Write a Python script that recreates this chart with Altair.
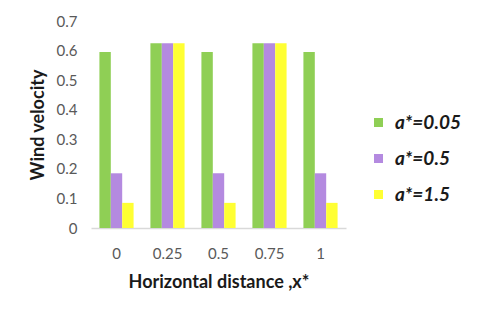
import altair as alt
import pandas as pd

categories = ["0", "0.25", "0.5", "0.75", "1"]
series = ["a*=0.05", "a*=0.5", "a*=1.5"]
v_005 = [0.595, 0.625, 0.595, 0.625, 0.595]
v_05 = [0.185, 0.625, 0.185, 0.625, 0.185]
v_15 = [0.085, 0.625, 0.085, 0.625, 0.085]
colors = ["#8fcf55", "#b48ae0", "#ffff33"]

rows = []
for s, vals in zip(series, [v_005, v_05, v_15]):
    for c, v in zip(categories, vals):
        rows.append({"x": c, "series": s, "v": v})
df = pd.DataFrame(rows)

FONT = "Lato"

chart = alt.Chart(df).mark_bar().encode(
    x=alt.X("x:N", sort=categories,
            scale=alt.Scale(paddingInner=0.33, paddingOuter=0.165),
            axis=alt.Axis(title="Horizontal distance ,x*", labelAngle=0, ticks=False,
                          labelPadding=18, titlePadding=12, domainColor="#d9d9d9",
                          domainWidth=1.5)),
    xOffset=alt.XOffset("series:N", sort=series),
    y=alt.Y("v:Q", scale=alt.Scale(domain=[0, 0.7], nice=False),
            axis=alt.Axis(title="Wind velocity", values=[0, 0.1, 0.2, 0.3, 0.4, 0.5, 0.6, 0.7],
                          format=".1~f", grid=False, domain=False, ticks=False,
                          labelPadding=14, titlePadding=9)),
    color=alt.Color("series:N", sort=series,
                    scale=alt.Scale(domain=series, range=colors),
                    legend=alt.Legend(title=None, orient="none", legendX=278, legendY=92,
                                      symbolType="square", symbolSize=81,
                                      labelFont=FONT, labelFontSize=19, labelFontWeight="bold",
                                      labelFontStyle="italic", labelColor="#1a1a1a",
                                      rowPadding=16, labelOffset=7, padding=0)),
).properties(
    width=255, height=207,
    autosize=alt.AutoSizeParams(type="none"),
    padding={"left": 83, "top": 13, "right": 126, "bottom": 79},
    background="white",
).configure_view(stroke=None).configure_axis(
    labelFont=FONT, labelFontSize=15, labelColor="#595959",
    titleFont=FONT, titleFontSize=18, titleFontWeight="bold", titleColor="#1a1a1a",
)

chart.save("out.html", embed_options={"renderer": "svg", "actions": False})
